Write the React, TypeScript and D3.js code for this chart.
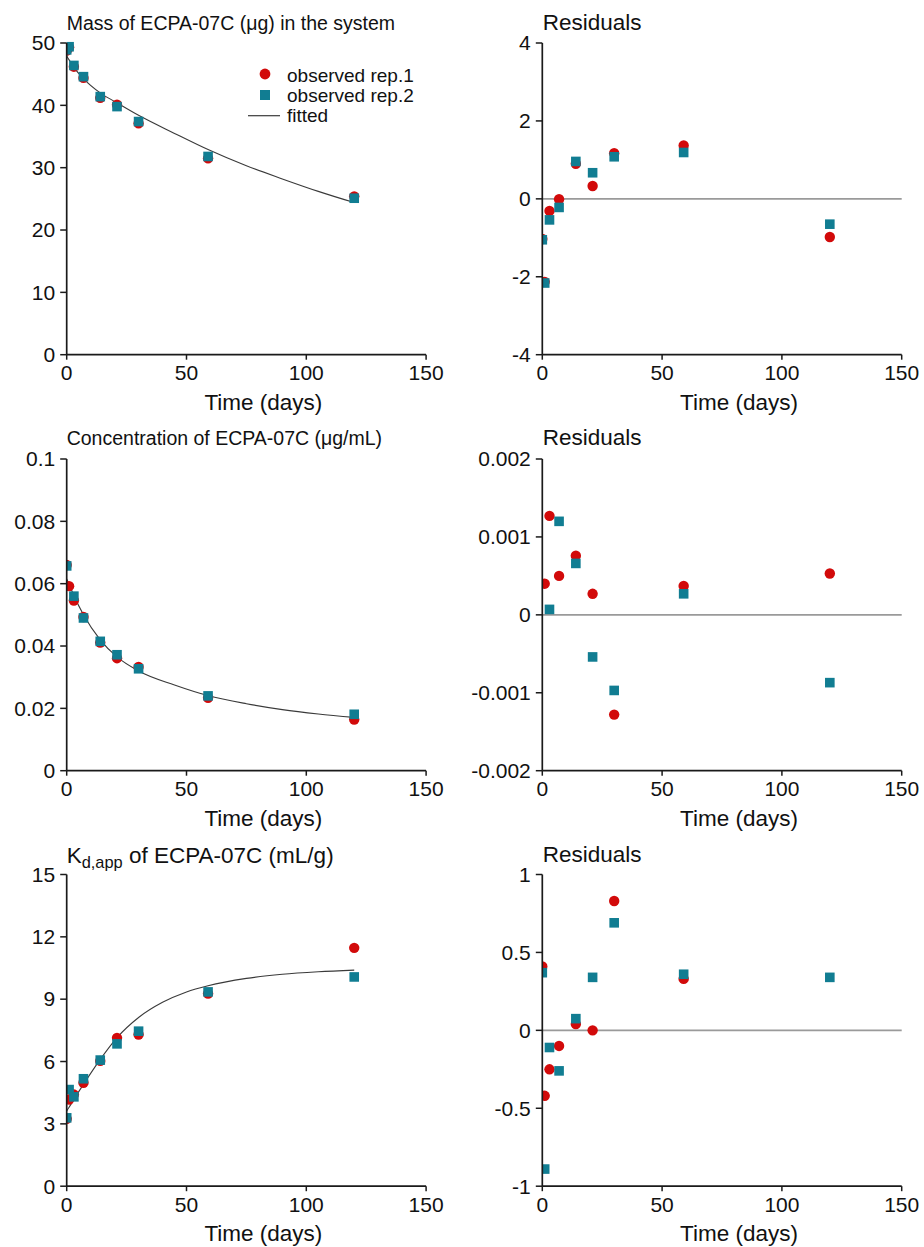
import React from "react";
import * as d3 from "d3";

// ---------- data ----------
const TIMES = [0, 1, 3, 7, 14, 21, 30, 59, 120];
const X_TICKS = [0, 50, 100, 150];
const X_TICK_LABELS = ["0", "50", "100", "150"];

// Mass of ECPA-07C (µg) in the system
const MASS_REP1 = [48.8, 49.3, 46.2, 44.4, 41.2, 40.1, 37.1, 31.5, 25.4];
const MASS_REP2 = [48.9, 49.4, 46.4, 44.6, 41.4, 39.8, 37.4, 31.8, 25.1];
const MASS_FIT_T = [0, 1, 3, 7, 14, 21, 30, 45, 59, 75, 90, 105, 120];
const MASS_FIT = [47.9, 47.3, 46.1, 44.3, 42.0, 40.4, 38.4, 35.5, 32.9, 30.3, 28.2, 26.2, 24.4];
const MASS_RES_REP1 = [-1.03, -2.13, -0.31, -0.01, 0.9, 0.33, 1.17, 1.37, -0.98];
const MASS_RES_REP2 = [-1.05, -2.16, -0.54, -0.22, 0.96, 0.67, 1.08, 1.19, -0.65];
const MASS_Y_TICKS = [0, 10, 20, 30, 40, 50];
const MASS_Y_LABELS = ["0", "10", "20", "30", "40", "50"];
const MASS_RES_TICKS = [-4, -2, 0, 2, 4];
const MASS_RES_LABELS = ["-4", "-2", "0", "2", "4"];

// Concentration of ECPA-07C (µg/mL)
const CONC_REP1 = [0.066, 0.0592, 0.0546, 0.0493, 0.0411, 0.0361, 0.0333, 0.0234, 0.0164];
const CONC_REP2 = [0.0657, null, 0.056, 0.049, 0.0415, 0.0372, 0.0327, 0.024, 0.0181];
const CONC_FIT_T = [0, 1, 3, 7, 14, 21, 30, 45, 59, 75, 90, 105, 120];
const CONC_FIT = [0.0615, 0.0598, 0.0562, 0.05, 0.042, 0.0365, 0.032, 0.0275, 0.0241, 0.0215, 0.0196, 0.0182, 0.0171];
const CONC_RES_REP1 = [null, 0.0004, 0.00127, 0.0005, 0.00076, 0.00027, -0.00128, 0.00037, 0.00053];
const CONC_RES_REP2 = [null, null, 0.00007, 0.0012, 0.00066, -0.00054, -0.00097, 0.00027, -0.00087];
const CONC_Y_TICKS = [0, 0.02, 0.04, 0.06, 0.08, 0.1];
const CONC_Y_LABELS = ["0", "0.02", "0.04", "0.06", "0.08", "0.1"];
const CONC_RES_TICKS = [-0.002, -0.001, 0, 0.001, 0.002];
const CONC_RES_LABELS = ["-0.002", "-0.001", "0", "0.001", "0.002"];

// Kd,app of ECPA-07C (mL/g)
const KD_REP1 = [3.24, 4.17, 4.41, 4.98, 6.03, 7.14, 7.3, 9.27, 11.47];
const KD_REP2 = [3.29, 4.65, 4.3, 5.17, 6.07, 6.85, 7.46, 9.35, 10.07];
const KD_FIT_T = [0, 1, 3, 7, 14, 21, 30, 40, 50, 59, 75, 90, 105, 120];
const KD_FIT = [3.62, 3.8, 4.18, 4.9, 6.1, 7.15, 8.12, 8.85, 9.35, 9.65, 10.0, 10.2, 10.32, 10.4];
const KD_RES_REP1 = [0.41, -0.42, -0.25, -0.1, 0.04, 0.0, 0.83, 0.33, null];
const KD_RES_REP2 = [0.37, -0.89, -0.11, -0.26, 0.075, 0.34, 0.69, 0.36, 0.34];
const KD_Y_TICKS = [0, 3, 6, 9, 12, 15];
const KD_Y_LABELS = ["0", "3", "6", "9", "12", "15"];
const KD_RES_TICKS = [-1, -0.5, 0, 0.5, 1];
const KD_RES_LABELS = ["-1", "-0.5", "0", "0.5", "1"];

const LEGEND_LABELS = ["observed rep.1", "observed rep.2", "fitted"];

// ---------- style ----------
const FONT = "'Liberation Sans', Arial, Helvetica, sans-serif";
const RED = "#d20a0a";
const TEAL = "#117d92";
const AXIS = "#1a1a1a";

const ROW_TOPS = [43, 459, 874.5];
const PLOT_H = 311.7;
const PLOT_W = 359.4;
const LEFT_X = 66.7;
const RIGHT_X = 542.3;

type PanelProps = {
  id: string;
  x0: number;
  y0: number;
  yDomain: [number, number];
  yTicks: number[];
  yLabels: string[];
  rep1: (number | null)[];
  rep2: (number | null)[];
  fitT?: number[];
  fit?: number[];
  zeroLine?: boolean;
  title: React.ReactNode;
  legend?: boolean;
};

function Panel(p: PanelProps) {
  const x = d3.scaleLinear().domain([0, 150]).range([p.x0, p.x0 + PLOT_W]);
  const y = d3.scaleLinear().domain(p.yDomain).range([p.y0 + PLOT_H, p.y0]);
  const axisY = p.y0 + PLOT_H;
  const clipId = `clip-${p.id}`;

  let fitPath: string | null = null;
  if (p.fit && p.fitT) {
    const pts: [number, number][] = p.fitT.map((t, i) => [t, p.fit![i]]);
    fitPath = d3
      .line<[number, number]>()
      .x((d) => x(d[0]))
      .y((d) => y(d[1]))
      .curve(d3.curveMonotoneX)(pts);
  }

  const sq = 9.6;
  return (
    <g>
      <defs>
        <clipPath id={clipId}>
          <rect x={p.x0} y={p.y0 - 20} width={PLOT_W + 20} height={PLOT_H + 40} />
        </clipPath>
      </defs>
      {p.title}
      {p.zeroLine && (
        <line x1={x(0)} x2={x(150)} y1={y(0)} y2={y(0)} stroke="#9a9a9a" strokeWidth={1.6} />
      )}
      {fitPath && <path d={fitPath} fill="none" stroke="#3a3a3a" strokeWidth={1.1} />}
      <g clipPath={`url(#${clipId})`}>
        {p.rep1.map((v, i) =>
          v === null ? null : (
            <circle key={`r${i}`} cx={x(TIMES[i])} cy={y(v)} r={5.2} fill={RED} />
          )
        )}
        {p.rep2.map((v, i) =>
          v === null ? null : (
            <rect
              key={`t${i}`}
              x={x(TIMES[i]) - sq / 2}
              y={y(v) - sq / 2}
              width={sq}
              height={sq}
              fill={TEAL}
            />
          )
        )}
      </g>
      {/* y axis */}
      <line x1={p.x0} x2={p.x0} y1={y(p.yDomain[1])} y2={axisY} stroke={AXIS} strokeWidth={1.7} />
      {p.yTicks.map((t, i) => (
        <g key={`yt${i}`}>
          <line x1={p.x0 - 6.5} x2={p.x0} y1={y(t)} y2={y(t)} stroke={AXIS} strokeWidth={1.5} />
          <text
            x={p.x0 - 11.5}
            y={y(t) + 7.3}
            textAnchor="end"
            fontSize={21}
            fontFamily={FONT}
            fill="#111"
          >
            {p.yLabels[i]}
          </text>
        </g>
      ))}
      {/* x axis */}
      <line x1={p.x0} x2={p.x0 + PLOT_W} y1={axisY} y2={axisY} stroke={AXIS} strokeWidth={1.7} />
      {X_TICKS.map((t, i) => (
        <g key={`xt${i}`}>
          <line x1={x(t)} x2={x(t)} y1={axisY} y2={axisY + 5} stroke={AXIS} strokeWidth={1.5} />
          <text
            x={x(t)}
            y={axisY + 25.5}
            textAnchor="middle"
            fontSize={21}
            fontFamily={FONT}
            fill="#111"
          >
            {X_TICK_LABELS[i]}
          </text>
        </g>
      ))}
      <text
        x={p.x0 + PLOT_W / 2 + 17}
        y={axisY + 55}
        textAnchor="middle"
        fontSize={22.5}
        fontFamily={FONT}
        fill="#111"
      >
        Time (days)
      </text>
      {p.legend && (
        <g fontFamily={FONT} fontSize={19} fill="#111">
          <circle cx={265} cy={p.y0 + 31} r={5.4} fill={RED} />
          <text x={287} y={p.y0 + 38.5}>{LEGEND_LABELS[0]}</text>
          <rect x={265 - 5} y={p.y0 + 52 - 5} width={10} height={10} fill={TEAL} />
          <text x={287} y={p.y0 + 58.5}>{LEGEND_LABELS[1]}</text>
          <line x1={248} x2={280} y1={p.y0 + 72.7} y2={p.y0 + 72.7} stroke="#3a3a3a" strokeWidth={1.2} />
          <text x={287} y={p.y0 + 78.5}>{LEGEND_LABELS[2]}</text>
        </g>
      )}
    </g>
  );
}

export default function App() {
  const resTitle = (yBase: number) => (
    <text x={RIGHT_X + 0.5} y={yBase} fontSize={22.5} fontFamily={FONT} fill="#111">
      Residuals
    </text>
  );
  return (
    <svg
      width={924}
      height={1247}
      viewBox="0 0 924 1247"
      style={{ position: "absolute", left: 0, top: 0, background: "#fff" }}
    >
      <rect x={0} y={0} width={924} height={1247} fill="#fff" />
      <Panel
        id="mass"
        x0={LEFT_X}
        y0={ROW_TOPS[0]}
        yDomain={[0, 50]}
        yTicks={MASS_Y_TICKS}
        yLabels={MASS_Y_LABELS}
        rep1={MASS_REP1}
        rep2={MASS_REP2}
        fitT={MASS_FIT_T}
        fit={MASS_FIT}
        legend
        title={
          <text x={LEFT_X} y={29.5} fontSize={19.5} fontFamily={FONT} fill="#111">
            Mass of ECPA-07C (μg) in the system
          </text>
        }
      />
      <Panel
        id="massres"
        x0={RIGHT_X}
        y0={ROW_TOPS[0]}
        yDomain={[-4, 4]}
        yTicks={MASS_RES_TICKS}
        yLabels={MASS_RES_LABELS}
        rep1={MASS_RES_REP1}
        rep2={MASS_RES_REP2}
        zeroLine
        title={resTitle(29.5)}
      />
      <Panel
        id="conc"
        x0={LEFT_X}
        y0={ROW_TOPS[1]}
        yDomain={[0, 0.1]}
        yTicks={CONC_Y_TICKS}
        yLabels={CONC_Y_LABELS}
        rep1={CONC_REP1}
        rep2={CONC_REP2}
        fitT={CONC_FIT_T}
        fit={CONC_FIT}
        title={
          <text x={LEFT_X} y={445} fontSize={19.5} fontFamily={FONT} fill="#111">
            Concentration of ECPA-07C (μg/mL)
          </text>
        }
      />
      <Panel
        id="concres"
        x0={RIGHT_X}
        y0={ROW_TOPS[1]}
        yDomain={[-0.002, 0.002]}
        yTicks={CONC_RES_TICKS}
        yLabels={CONC_RES_LABELS}
        rep1={CONC_RES_REP1}
        rep2={CONC_RES_REP2}
        zeroLine
        title={resTitle(444.5)}
      />
      <Panel
        id="kd"
        x0={LEFT_X}
        y0={ROW_TOPS[2]}
        yDomain={[0, 15]}
        yTicks={KD_Y_TICKS}
        yLabels={KD_Y_LABELS}
        rep1={KD_REP1}
        rep2={KD_REP2}
        fitT={KD_FIT_T}
        fit={KD_FIT}
        title={
          <text x={LEFT_X} y={863} fontSize={22.5} fontFamily={FONT} fill="#111">
            K
            <tspan fontSize={16.4} dy={4.5}>d,app</tspan>
            <tspan dy={-4.5}> of ECPA-07C (mL/g)</tspan>
          </text>
        }
      />
      <Panel
        id="kdres"
        x0={RIGHT_X}
        y0={ROW_TOPS[2]}
        yDomain={[-1, 1]}
        yTicks={KD_RES_TICKS}
        yLabels={KD_RES_LABELS}
        rep1={KD_RES_REP1}
        rep2={KD_RES_REP2}
        zeroLine
        title={resTitle(862)}
      />
    </svg>
  );
}
